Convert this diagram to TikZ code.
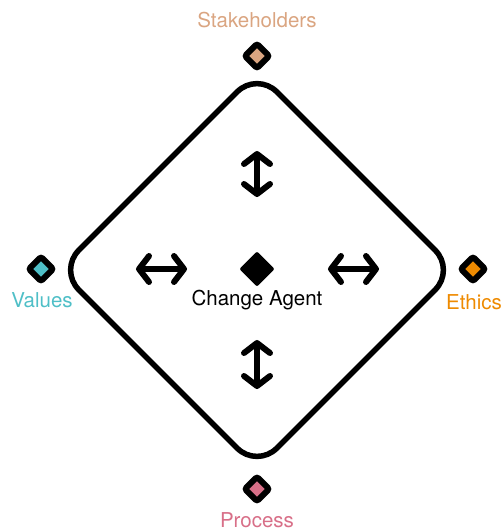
\documentclass[tikz,border=0pt]{standalone}
\usepackage{fontspec}
\setmainfont{TeX Gyre Heros}
\usepackage{tikz}
\usetikzlibrary{arrows.meta}
\usetikzlibrary{positioning}

\definecolor{stakecol}{HTML}{DAA581}
\definecolor{valuecol}{HTML}{4FBFC7}
\definecolor{ethicscol}{HTML}{EE8A00}
\definecolor{processcol}{HTML}{D86F88}

\tikzset{
  marker/.style={draw, line width=6pt, rounded corners=2pt, rotate=45, minimum size=17pt, inner sep=0pt},
  twoway/.style={line width=6pt, line cap=round, {Straight Barb[length=10pt,width=26pt,round]}-{Straight Barb[length=10pt,width=26pt,round]}},
  lbl/.style={font=\fontsize{20.5}{24}\selectfont, inner sep=0pt}
}

\begin{document}
\begin{tikzpicture}[x=1pt, y=-1pt]
				\useasboundingbox (0,0) rectangle (504,531);
				\node[draw, line width=5.5pt, rounded corners=28pt, rotate=45, minimum size=280pt, inner sep=0pt] (field) at (257,270) {};
				\node[fill=black, rounded corners=2pt, rotate=45, minimum size=25pt, inner sep=0pt] (agent) at (257,269) {};
				\node[lbl] (agentlbl) at (257,300) {Change Agent};
				
				\node[marker, fill=stakecol] (stake) at (257,56) {};
				\node[marker, fill=valuecol] (values) at (41,269) {};
				\node[marker, fill=ethicscol] (ethics) at (473,269) {};
				\node[marker, fill=processcol] (process) at (257,489) {};
				
				\node[lbl, text=stakecol] (stakelbl) at (257,20) {Stakeholders};
				\node[lbl, text=valuecol] (valueslbl) at (42,300) {Values};
				\node[lbl, text=ethicscol] (ethicslbl) at (474,302) {Ethics};
				\node[lbl, text=processcol] (processlbl) at (257,520) {Process};
				
				\coordinate (n1) at (257,151);
				\coordinate (n2) at (257,197);
				\coordinate (s1) at (257,340);
				\coordinate (s2) at (257,389);
				\coordinate (w1) at (136,269);
				\coordinate (w2) at (187,269);
				\coordinate (e1) at (328,269);
				\coordinate (e2) at (379,269);
				
				\draw[twoway] (n1) -- (n2);
				\draw[twoway] (s1) -- (s2);
				\draw[twoway] (w1) -- (w2);
				\draw[twoway] (e1) -- (e2);
			\end{tikzpicture}
\end{document}
